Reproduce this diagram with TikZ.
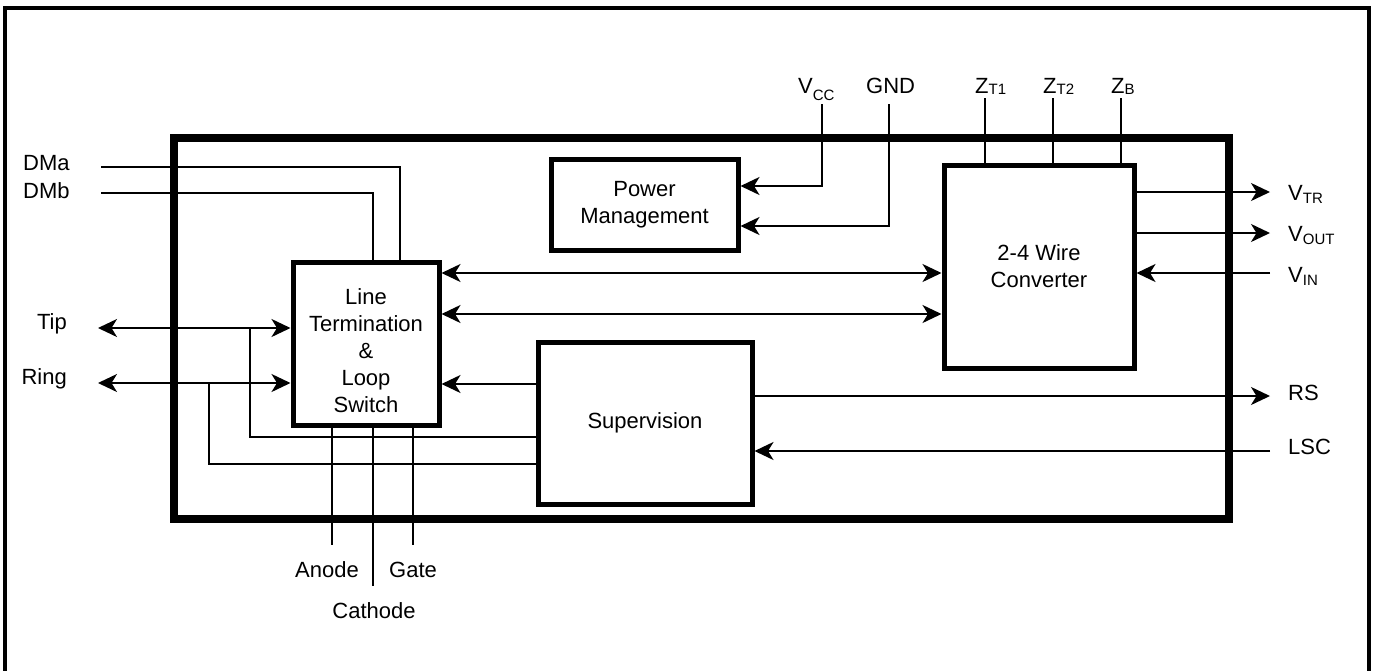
\documentclass[tikz,border=0pt]{standalone}
\usepackage{fontspec}
\setmainfont{Liberation Sans}
\usetikzlibrary{arrows.meta}
\newcommand{\lsub}[2][3.5pt]{\raisebox{-#1}{\fontsize{15pt}{15pt}\selectfont #2}}
\begin{document}
\begin{tikzpicture}[x=1pt,y=-1pt,
  wire/.style={line width=2pt},
  tipshape/.style={},
  arr/.style={wire,-{Stealth[length=19pt,width=18pt,inset=5.5pt]}},
  barr/.style={wire,{Stealth[length=19pt,width=18pt,inset=5.5pt]}-{Stealth[length=19pt,width=18pt,inset=5.5pt]}},
  blk/.style={draw,line width=5pt,align=center,inner sep=0pt,font=\fontsize{22pt}{27pt}\selectfont},
  lbl/.style={inner sep=0pt,font=\fontsize{22pt}{27pt}\selectfont}]
\useasboundingbox (0,0) rectangle (1376,670);
% outer frame (open at bottom)
\draw[line width=4pt] (5,672) -- (5,8) -- (1369,8) -- (1369,672);
% main blocks
\node[draw,line width=8pt,inner sep=0pt,minimum width=1055pt,minimum height=381pt] (big) at (701.5,328.5) {};
\node[blk,minimum width=146pt,minimum height=163pt] (lt) at (366,343.5) {\rule{0pt}{30pt}Line\\Termination\\\&\\Loop\\Switch};
\node[blk,minimum width=187pt,minimum height=91pt] (pm) at (644.5,204.5) {Power\\Management};
\node[blk,minimum width=190pt,minimum height=203pt] (conv) at (1039,266.5) {2-4 Wire\\Converter};
\node[blk,minimum width=214pt,minimum height=162pt] (sup) at (645,423) {Supervision};
% helper coordinates
\coordinate (dma) at (101,167);
\coordinate (dmb) at (101,193);
\coordinate (dmax) at (400,0);
\coordinate (dmbx) at (373,0);
\coordinate (tip) at (98,328);
\coordinate (ring) at (98,383);
\coordinate (tipb) at (250,328);
\coordinate (ringb) at (209,383);
\coordinate (tipy) at (0,437);
\coordinate (ringy) at (0,464);
\coordinate (y273) at (0,273);
\coordinate (y314) at (0,314);
\coordinate (y384) at (0,384);
\coordinate (vcc) at (822,104);
\coordinate (gnd) at (889,104);
\coordinate (y186) at (0,186);
\coordinate (y226) at (0,226);
\coordinate (zt1) at (985,98);
\coordinate (zt2) at (1053,98);
\coordinate (zb) at (1121,98);
\coordinate (vtr) at (1270,192);
\coordinate (vout) at (1270,233);
\coordinate (vin) at (1270,273);
\coordinate (rs) at (1270,396);
\coordinate (lsc) at (1270,451);
\coordinate (anode) at (332,545);
\coordinate (cathode) at (373,586);
\coordinate (gate) at (413,545);
% connectors
\draw[wire] (dma) -| (lt.north -| dmax);
\draw[wire] (dmb) -| (lt.north -| dmbx);
\draw[barr] (tip) -- (lt.west |- tip);
\draw[barr] (ring) -- (lt.west |- ring);
\draw[wire] (tipb) |- (sup.west |- tipy);
\draw[wire] (ringb) |- (sup.west |- ringy);
\draw[barr] (lt.east |- y273) -- (conv.west |- y273);
\draw[barr] (lt.east |- y314) -- (conv.west |- y314);
\draw[arr] (sup.west |- y384) -- (lt.east |- y384);
\draw[arr] (vcc) |- (pm.east |- y186);
\draw[arr] (gnd) |- (pm.east |- y226);
\draw[wire] (zt1) -- (zt1 |- conv.north);
\draw[wire] (zt2) -- (zt2 |- conv.north);
\draw[wire] (zb) -- (zb |- conv.north);
\draw[arr] (conv.east |- vtr) -- (vtr);
\draw[arr] (conv.east |- vout) -- (vout);
\draw[arr] (vin) -- (conv.east |- vin);
\draw[arr] (sup.east |- rs) -- (rs);
\draw[arr] (lsc) -- (sup.east |- lsc);
\draw[wire] (anode |- lt.south) -- (anode);
\draw[wire] (cathode |- lt.south) -- (cathode);
\draw[wire] (gate |- lt.south) -- (gate);
% labels
\node[lbl,anchor=base west] (ldma) at (23,170) {DMa};
\node[lbl,anchor=base west] (ldmb) at (23,198) {DMb};
\node[lbl,anchor=base east] (ltip) at (67,329) {Tip};
\node[lbl,anchor=base east] (lring) at (67,384) {Ring};
\node[lbl,anchor=base] (lanode) at (327,577) {Anode};
\node[lbl,anchor=base] (lgate) at (413,577) {Gate};
\node[lbl,anchor=base] (lcath) at (374,618) {Cathode};
\node[lbl,anchor=base west] (lvcc) at (798,93) {V\lsub[7pt]{CC}};
\node[lbl,anchor=base west] (lgnd) at (866,93) {GND};
\node[lbl,anchor=base west] (lzt1) at (975,93) {Z\lsub[1pt]{T1}};
\node[lbl,anchor=base west] (lzt2) at (1043,93) {Z\lsub[1pt]{T2}};
\node[lbl,anchor=base west] (lzb) at (1111,93) {Z\lsub[1pt]{B}};
\node[lbl,anchor=base west] (lvtr) at (1288,200) {V\lsub{TR}};
\node[lbl,anchor=base west] (lvout) at (1288,241) {V\lsub{OUT}};
\node[lbl,anchor=base west] (lvin) at (1288,282) {V\lsub{IN}};
\node[lbl,anchor=base west] (lrs) at (1288,400) {RS};
\node[lbl,anchor=base west] (llsc) at (1288,454) {LSC};
\end{tikzpicture}
\end{document}
